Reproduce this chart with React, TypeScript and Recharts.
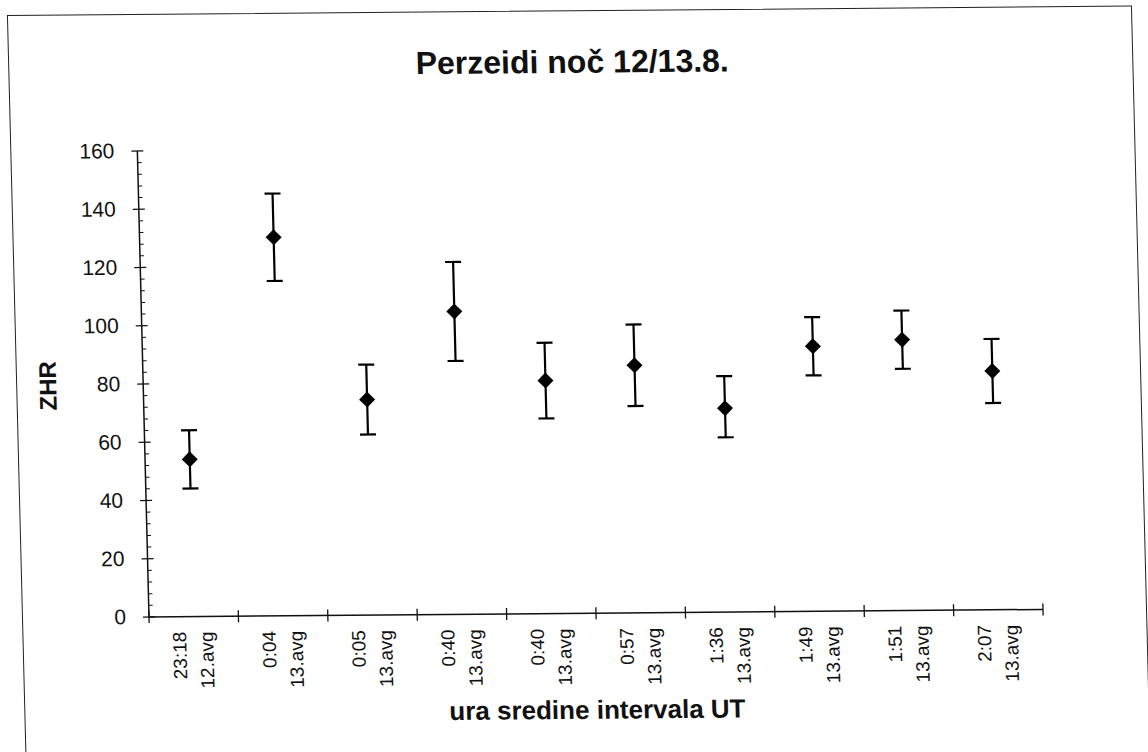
import React from 'react';
import { ComposedChart, Scatter, ErrorBar, XAxis, YAxis } from 'recharts';

// observation times (UT) and dates, one per interval
const times = ['23:18', '0:04', '0:05', '0:40', '0:40', '0:57', '1:36', '1:49', '1:51', '2:07'];
const dates = ['12.avg', '13.avg', '13.avg', '13.avg', '13.avg', '13.avg', '13.avg', '13.avg', '13.avg', '13.avg'];

// ZHR with upper / lower error bounds
const zhr = [54, 130, 74, 104, 80, 85, 70, 91, 93, 82];
const zhrHigh = [64, 145, 86, 121, 93, 99, 81, 101, 103, 93];
const zhrLow = [44, 115, 62, 87, 67, 71, 60, 81, 83, 71];

const yMajor = [0, 20, 40, 60, 80, 100, 120, 140, 160];

const FONT = '"Liberation Sans", Arial, sans-serif';
const INK = '#111';

const data = zhr.map((v, i) => ({
  x: i + 0.5,
  zhr: v,
  err: [v - zhrLow[i], zhrHigh[i] - v],
}));

// boundaries between categories get a tick line, centres get the label
const xTicks = [
  ...times.map((_, i) => i),
  times.length,
  ...times.map((_, i) => i + 0.5),
].sort((a, b) => a - b);

const yTicks: number[] = [];
for (let i = 0; i < yMajor.length - 1; i++) {
  for (let k = 0; k < 5; k++) yTicks.push(yMajor[i] + k * 4);
}
yTicks.push(yMajor[yMajor.length - 1]);

const XTick = (props: any) => {
  const { x, y, payload } = props;
  const v = payload.value;
  if (Number.isInteger(v)) {
    return <line x1={x} x2={x} y1={y - 6} y2={y + 6} stroke={INK} strokeWidth={1.3} />;
  }
  const i = Math.floor(v);
  return (
    <g transform={`translate(${x},${y})`}>
      <text transform="rotate(-90)" textAnchor="end" fontSize={19} fill={INK} fontFamily={FONT}>
        <tspan x={-15} y={-8}>{times[i]}</tspan>
        <tspan x={-15} y={19}>{dates[i]}</tspan>
      </text>
    </g>
  );
};

const YTick = (props: any) => {
  const { x, y, payload } = props;
  const v = payload.value;
  if (v % 20 !== 0) {
    return <line x1={x} x2={x + 4} y1={y} y2={y} stroke={INK} strokeWidth={1} />;
  }
  return (
    <g>
      <line x1={x - 6} x2={x + 6} y1={y} y2={y} stroke={INK} strokeWidth={1.3} />
      <text x={x - 23} y={y} dy={7} textAnchor="end" fontSize={21} fill={INK} fontFamily={FONT}>
        {v}
      </text>
    </g>
  );
};

const Diamond = (props: any) => {
  const { cx, cy } = props;
  const r = 8;
  return (
    <polygon
      points={`${cx},${cy - r} ${cx + r},${cy} ${cx},${cy + r} ${cx - r},${cy}`}
      fill="#000"
    />
  );
};

export default function App() {
  return (
    <div
      style={{
        position: 'absolute',
        left: 0,
        top: 0,
        width: 1148,
        height: 752,
        overflow: 'hidden',
        background: '#fff',
      }}
    >
      {/* slight skew, like the scanned original */}
      <div
        style={{
          position: 'absolute',
          left: 0,
          top: 0,
          width: 1148,
          height: 752,
          transformOrigin: '149px 617px',
          transform: 'matrix(1, -0.0085, 0.025, 1, 0, 0)',
          fontFamily: FONT,
          color: INK,
        }}
      >
        <div
          style={{
            position: 'absolute',
            left: 22,
            top: 14,
            width: 1125,
            height: 780,
            border: '1.5px solid #222',
            boxSizing: 'border-box',
          }}
        />
        <div
          style={{
            position: 'absolute',
            left: 586,
            top: 66,
            transform: 'translate(-50%, -50%)',
            fontSize: 32,
            fontWeight: 'bold',
            whiteSpace: 'nowrap',
          }}
        >
          Perzeidi noč 12/13.8.
        </div>
        <div
          style={{
            position: 'absolute',
            left: 54,
            top: 385,
            transform: 'translate(-50%, -50%) rotate(-90deg)',
            fontSize: 24,
            fontWeight: 'bold',
            whiteSpace: 'nowrap',
          }}
        >
          ZHR
        </div>
        <div
          style={{
            position: 'absolute',
            left: 595,
            top: 714,
            transform: 'translate(-50%, -50%)',
            fontSize: 26,
            fontWeight: 'bold',
            whiteSpace: 'nowrap',
          }}
        >
          ura sredine intervala UT
        </div>
        <div style={{ position: 'absolute', left: 0, top: 0 }}>
          <ComposedChart
            width={1148}
            height={752}
            data={data}
            margin={{ top: 151, right: 105, bottom: 40, left: 89 }}
          >
            <XAxis
              dataKey="x"
              type="number"
              domain={[0, times.length]}
              ticks={xTicks}
              interval={0}
              height={95}
              tickLine={false}
              tickSize={0}
              tickMargin={0}
              axisLine={{ stroke: INK, strokeWidth: 1.5 }}
              tick={<XTick />}
            />
            <YAxis
              type="number"
              domain={[0, 160]}
              ticks={yTicks}
              interval={0}
              width={60}
              tickLine={false}
              tickSize={0}
              tickMargin={0}
              axisLine={{ stroke: INK, strokeWidth: 1.5 }}
              tick={<YTick />}
            />
            <Scatter dataKey="zhr" shape={<Diamond />} isAnimationActive={false}>
              <ErrorBar dataKey="err" direction="y" width={8} stroke="#000" strokeWidth={2.2} />
            </Scatter>
          </ComposedChart>
        </div>
      </div>
    </div>
  );
}
